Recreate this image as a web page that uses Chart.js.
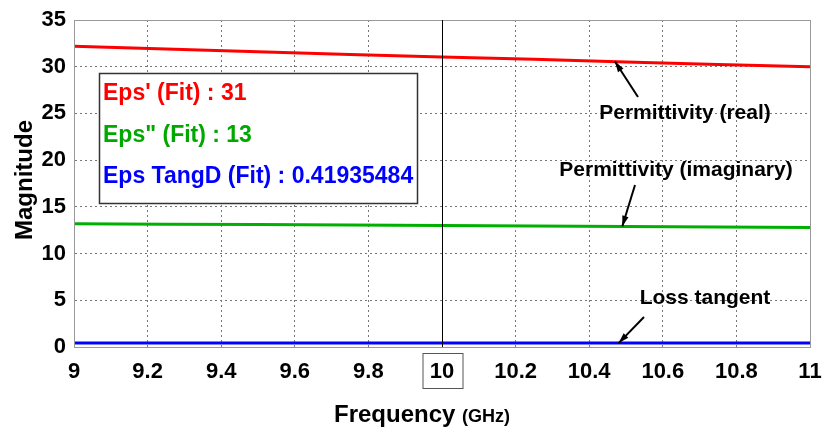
<!DOCTYPE html>
<html>
<head>
<meta charset="utf-8">
<script src="https://cdn.jsdelivr.net/npm/chart.js@4.4.1/dist/chart.umd.min.js"></script>
<style>
  html, body { margin: 0; padding: 0; background: #fff; }
  #wrap { width: 823px; height: 430px; }
</style>
</head>
<body>
<div id="wrap"><canvas id="epsChart" width="823" height="430"></canvas></div>
<script>
// frequency points (GHz) and fitted values
const freqs = [9.0, 9.25, 9.5, 9.75, 10.0, 10.25, 10.5, 10.75, 11.0];
const epsReal = [32.2, 31.9, 31.6, 31.3, 31.05, 30.8, 30.5, 30.25, 30.0];
const epsImag = [13.2, 13.15, 13.1, 13.05, 13.0, 12.95, 12.9, 12.85, 12.8];
const lossTan = [0.42, 0.42, 0.42, 0.42, 0.42, 0.42, 0.42, 0.42, 0.42];

const fitLines = [
    { text: "Eps' (Fit) : 31", color: '#ff0000' },
    { text: 'Eps" (Fit) : 13', color: '#00a800' },
    { text: 'Eps TangD (Fit) : 0.41935484', color: '#0000ff' }
];
const markerFreq = 10;

const FONT = "'Liberation Sans', Arial, sans-serif";

const toPts = (ys) => freqs.map((f, i) => ({ x: f, y: ys[i] }));

// extra drawing: frame, legend box, marker line, annotations, axis titles
const overlay = {
    id: 'overlay',
    afterDatasetsDraw(chart) {
        const { ctx, chartArea: a, scales: { x, y } } = chart;
        ctx.save();

        // solid gray frame round the plot
        ctx.strokeStyle = '#999';
        ctx.lineWidth = 1;
        ctx.strokeRect(Math.round(a.left) + 0.5, Math.round(a.top) + 0.5,
            Math.round(a.right - a.left), Math.round(a.bottom - a.top));

        // vertical marker at 10 GHz
        const mx = Math.round(x.getPixelForValue(markerFreq)) + 0.5;
        ctx.strokeStyle = '#000';
        ctx.beginPath();
        ctx.moveTo(mx, a.top);
        ctx.lineTo(mx, a.bottom);
        ctx.stroke();

        // box around the "10" tick label
        ctx.strokeStyle = '#555';
        ctx.strokeRect(mx - 19.5, a.bottom + 6.5, 40, 35);

        // fit values box
        ctx.fillStyle = '#fff';
        ctx.fillRect(99, 73, 318, 130);
        ctx.strokeStyle = '#333';
        ctx.lineWidth = 1.5;
        ctx.strokeRect(99.5, 73.5, 318, 130);
        ctx.font = 'bold 23px ' + FONT;
        ctx.textBaseline = 'middle';
        ctx.textAlign = 'left';
        fitLines.forEach((l, i) => {
            ctx.fillStyle = l.color;
            ctx.fillText(l.text, 103, 94 + i * 41.5);
        });

        // annotations with arrows pointing at curves
        const arrow = (x0, y0, fx, fy) => {
            const x1 = x.getPixelForValue(fx), y1 = y.getPixelForValue(fy);
            ctx.strokeStyle = '#000';
            ctx.fillStyle = '#000';
            ctx.lineWidth = 2;
            ctx.beginPath();
            ctx.moveTo(x0, y0);
            ctx.lineTo(x1, y1);
            ctx.stroke();
            const ang = Math.atan2(y1 - y0, x1 - x0);
            ctx.beginPath();
            ctx.moveTo(x1, y1);
            ctx.lineTo(x1 - 11 * Math.cos(ang - 0.3), y1 - 11 * Math.sin(ang - 0.3));
            ctx.lineTo(x1 - 11 * Math.cos(ang + 0.3), y1 - 11 * Math.sin(ang + 0.3));
            ctx.closePath();
            ctx.fill();
        };
        ctx.font = 'bold 21px ' + FONT;
        ctx.textAlign = 'center';
        ctx.fillStyle = '#000';
        ctx.fillText('Permittivity (real)', 685, 113);
        arrow(638, 97, 10.47, 30.55);
        ctx.fillStyle = '#000';
        ctx.fillText('Permittivity (imaginary)', 676, 170);
        arrow(635, 185, 10.49, 12.92);
        ctx.fillStyle = '#000';
        ctx.fillText('Loss tangent', 705, 298);
        arrow(644, 317, 10.48, 0.42);

        // axis titles
        ctx.fillStyle = '#000';
        const t1 = 'Frequency ';
        ctx.font = 'bold 24px ' + FONT;
        const w1 = ctx.measureText(t1).width;
        ctx.font = 'bold 18px ' + FONT;
        const w2 = ctx.measureText('(GHz)').width;
        const sx = 422 - (w1 + w2) / 2;
        ctx.textAlign = 'left';
        ctx.textBaseline = 'alphabetic';
        ctx.font = 'bold 24px ' + FONT;
        ctx.fillText(t1, sx, 422);
        ctx.font = 'bold 18px ' + FONT;
        ctx.fillText('(GHz)', sx + w1, 422);

        ctx.translate(25, 180);
        ctx.rotate(-Math.PI / 2);
        ctx.textAlign = 'center';
        ctx.textBaseline = 'middle';
        ctx.font = 'bold 24px ' + FONT;
        ctx.fillText('Magnitude', 0, 0);
        ctx.restore();
    }
};

const ds = (label, ys, color) => ({
    label: label,
    data: toPts(ys),
    borderColor: color,
    backgroundColor: color,
    borderWidth: 3,
    pointRadius: 0,
    fill: false,
    tension: 0
});

new Chart(document.getElementById('epsChart'), {
    type: 'line',
    data: {
        datasets: [
            ds("Eps'", epsReal, '#ff0000'),
            ds('Eps"', epsImag, '#00b000'),
            ds('TangD', lossTan, '#0000ff')
        ]
    },
    options: {
        responsive: false,
        animation: false,
        layout: { padding: { top: 20, right: 13, left: 0, bottom: 0 } },
        plugins: {
            legend: { display: false },
            tooltip: { enabled: false }
        },
        scales: {
            x: {
                type: 'linear',
                min: 9,
                max: 11,
                afterFit: (s) => { s.height = 83; s.paddingRight = 0; s.paddingLeft = 0; },
                grid: {
                    color: '#777',
                    lineWidth: 1,
                    drawTicks: false
                },
                border: { display: true, color: '#999', dash: [2, 3] },
                ticks: {
                    stepSize: 0.2,
                    padding: 12,
                    color: '#000',
                    maxRotation: 0,
                    font: { family: FONT, size: 22, weight: 'bold' },
                    callback: (v) => String(parseFloat(v.toFixed(1)))
                }
            },
            y: {
                min: 0,
                max: 35,
                afterFit: (s) => { s.width = 74; s.paddingTop = 0; s.paddingBottom = 0; },
                grid: {
                    color: '#777',
                    lineWidth: 1,
                    drawTicks: false
                },
                border: { display: true, color: '#999', dash: [2, 3] },
                ticks: {
                    stepSize: 5,
                    padding: 8,
                    color: '#000',
                    font: { family: FONT, size: 22, weight: 'bold' }
                }
            }
        }
    },
    plugins: [overlay]
});
</script>
</body>
</html>
